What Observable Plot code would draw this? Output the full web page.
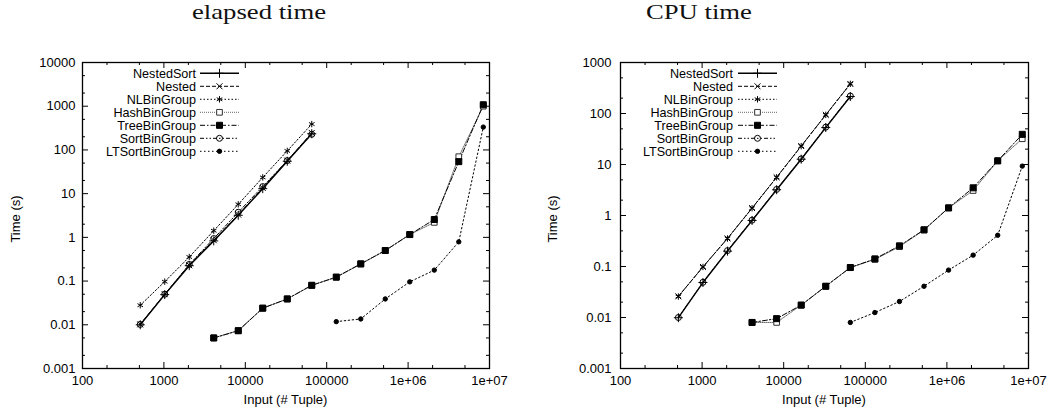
<!DOCTYPE html>
<html><head><meta charset="utf-8">
<script src="https://cdn.jsdelivr.net/npm/d3@7"></script>
<script src="https://cdn.jsdelivr.net/npm/@observablehq/plot@0.6"></script>
<style>
body{margin:0;background:#fff}
#wrap{position:relative;width:1054px;height:414px;overflow:hidden;background:#fff}
#wrap > svg{position:absolute;top:0}
</style></head><body><div id="wrap"></div>
<script>
// ---- data ----
const seriesNames = ["NestedSort","Nested","NLBinGroup","HashBinGroup","TreeBinGroup","SortBinGroup","LTSortBinGroup"];
const titles = ["elapsed time","CPU time"];
const xTicks = [100,1000,10000,100000,1e6,1e7];
const xTickLabels = ["100","1000","10000","100000","1e+06","1e+07"];
const xMinor = [200,500,2000,5000,20000,50000,200000,500000,2e6,5e6];
const yTicksE = [0.001,0.01,0.1,1,10,100,1000,10000];
const yTickLabelsE = ["0.001","0.01","0.1","1","10","100","1000","10000"];
const yMinorE = [0.002,0.005,0.02,0.05,0.2,0.5,2,5,20,50,200,500,2000,5000];
const yTicksC = [0.001,0.01,0.1,1,10,100,1000];
const yTickLabelsC = ["0.001","0.01","0.1","1","10","100","1000"];
const yMinorC = [0.002,0.005,0.02,0.05,0.2,0.5,2,5,20,50,200,500];

const nestX = [512,1024,2048,4096,8192,16384,32768,65536];
const binX = [4096,8192,16384,32768,65536,131072,262144,524288,1048576,2097152,4194304,8388608];
const ltX_E = [131072,262144,524288,1048576,2097152,4194304,8388608];
const ltX_C = [65536,131072,262144,524288,1048576,2097152,4194304,8388608];

// elapsed time (s)
const nestedSortE = [0.01,0.049,0.225,0.83,3.2,13,55,235];
const nestedE     = [0.0102,0.05,0.23,0.86,3.3,13.5,57,245];
const nlBinE      = [0.028,0.097,0.355,1.42,5.7,23.5,95,390];
const hashBinE    = [0.005,0.0074,0.024,0.039,0.08,0.123,0.245,0.5,1.16,2.2,70,1000];
const treeBinE    = [0.005,0.0073,0.024,0.039,0.08,0.123,0.248,0.5,1.16,2.56,54,1080];
const sortBinE    = [0.0102,0.05,0.24,0.94,3.75,14.5,57,228];
const ltSortE     = [0.0118,0.0136,0.039,0.096,0.178,0.79,333];

// CPU time (s)
const nestedSortC = [0.0099,0.0485,0.2,0.8,3.2,12.7,53,215];
const nestedC     = [0.026,0.098,0.355,1.4,5.6,23,94,380];
const nlBinC      = [0.0258,0.098,0.354,1.39,5.6,22.9,94,382];
const hashBinC    = [0.008,0.008,0.0175,0.041,0.0955,0.138,0.245,0.52,1.41,3.09,11.8,32];
const treeBinC    = [0.008,0.0095,0.0175,0.041,0.0955,0.141,0.254,0.524,1.41,3.49,11.8,39];
const sortBinC    = [0.01,0.049,0.205,0.81,3.25,12.9,54,220];
const ltSortC     = [0.008,0.0125,0.0206,0.041,0.085,0.167,0.41,9.3];

// ---- styles ----
const styles = {
  NestedSort:     {dash: null, sw: 1.4, stroke: "#000", symbol: "plus", r: 3, fill: "none"},
  Nested:         {dash: "4,2", sw: 1, stroke: "#000", symbol: "times", r: 2.8, fill: "none"},
  NLBinGroup:     {dash: "1.5,2", sw: 1, stroke: "#000", symbol: "asterisk", r: 3, fill: "none"},
  HashBinGroup:   {dash: "1,1", sw: 0.9, stroke: "#555", symbol: "square", r: 3.2, fill: "#fff"},
  TreeBinGroup:   {dash: "5,2,1.5,2", sw: 1, stroke: "#000", symbol: "square", r: 3.4, fill: "#000"},
  SortBinGroup:   {dash: "4,2,1.5,2,1.5,2", sw: 1, stroke: "#000", symbol: "circle", r: 3, fill: "none"},
  LTSortBinGroup: {dash: "1.5,2.5", sw: 1, stroke: "#000", symbol: "circle", r: 2.2, fill: "#000"}
};

const W = 527, H = 414, MT = 62, MB = 46;
const FONT = "'Liberation Sans', Arial, Helvetica, sans-serif";

function rows(xs, ys) { return xs.map((x, i) => ({x, y: ys[i]})); }

function panel({yDomain, yTicks, yTickLabels, yMinor, data, ml, mr, ypad}) {
  const iw = W - ml - mr, ih = H - MT - MB;
  const maj = 6, mn = 3;
  const marks = [];
  marks.push(
    Plot.tickX(xTicks, {x: d => d, insetTop: ih - maj, stroke: "#000"}),
    Plot.tickX(xTicks, {x: d => d, insetBottom: ih - maj, stroke: "#000"}),
    Plot.tickX(xMinor, {x: d => d, insetTop: ih - mn, stroke: "#000"}),
    Plot.tickX(xMinor, {x: d => d, insetBottom: ih - mn, stroke: "#000"}),
    Plot.tickY(yTicks, {y: d => d, insetRight: iw - maj, stroke: "#000"}),
    Plot.tickY(yTicks, {y: d => d, insetLeft: iw - maj, stroke: "#000"}),
    Plot.tickY(yMinor, {y: d => d, insetRight: iw - mn, stroke: "#000"}),
    Plot.tickY(yMinor, {y: d => d, insetLeft: iw - mn, stroke: "#000"})
  );
  for (const name of seriesNames) {
    const s = styles[name], d = data[name];
    marks.push(Plot.line(d, {x: "x", y: "y", stroke: s.stroke, strokeWidth: s.sw, strokeDasharray: s.dash || undefined}));
  }
  for (const name of seriesNames) {
    const s = styles[name], d = data[name];
    marks.push(Plot.dot(d, {x: "x", y: "y", symbol: s.symbol, r: s.r, stroke: name === "HashBinGroup" ? "#333" : "#000", fill: s.fill, strokeWidth: 1}));
  }
  marks.push(
    Plot.frame({stroke: "#000", strokeWidth: 1.3}),
    Plot.axisX({ticks: xTicks, tickFormat: d => xTickLabels[xTicks.indexOf(d)], tickSize: 0, tickPadding: 7, label: null, fill: "#000", fontSize: 13}),
    Plot.axisY({ticks: yTicks, tickFormat: d => yTickLabels[yTicks.indexOf(d)], tickSize: 0, tickPadding: ypad, label: null, fill: "#000", fontSize: 13})
  );
  return Plot.plot({
    width: W, height: H,
    marginLeft: ml, marginRight: mr, marginTop: MT, marginBottom: MB,
    x: {type: "log", domain: [100, 1e7]},
    y: {type: "log", domain: yDomain},
    style: {fontFamily: FONT, fontSize: "13px", color: "#000", background: "#fff", overflow: "visible"},
    marks
  });
}

const wrap = document.getElementById("wrap");
const left = panel({
  yDomain: [0.001, 10000], yTicks: yTicksE, yTickLabels: yTickLabelsE, yMinor: yMinorE, ml: 82, mr: 38, ypad: 7,
  data: {
    NestedSort: rows(nestX, nestedSortE), Nested: rows(nestX, nestedE), NLBinGroup: rows(nestX, nlBinE),
    HashBinGroup: rows(binX, hashBinE), TreeBinGroup: rows(binX, treeBinE), SortBinGroup: rows(nestX, sortBinE),
    LTSortBinGroup: rows(ltX_E, ltSortE)
  }
});
left.style.left = "0px";
wrap.appendChild(left);
const right = panel({
  yDomain: [0.001, 1000], yTicks: yTicksC, yTickLabels: yTickLabelsC, yMinor: yMinorC, ml: 93, mr: 26, ypad: 9,
  data: {
    NestedSort: rows(nestX, nestedSortC), Nested: rows(nestX, nestedC), NLBinGroup: rows(nestX, nlBinC),
    HashBinGroup: rows(binX, hashBinC), TreeBinGroup: rows(binX, treeBinC), SortBinGroup: rows(nestX, sortBinC),
    LTSortBinGroup: rows(ltX_C, ltSortC)
  }
});
right.style.left = "527px";
wrap.appendChild(right);

// ---- overlay: titles, axis labels, legends ----
const ov = d3.select(wrap).append("svg")
  .attr("width", 1054).attr("height", 414)
  .style("position", "absolute").style("left", "0px").style("top", "0px")
  .style("pointer-events", "none");

const titlePos = [{x: 192, y: 19}, {x: 646, y: 19}];
titles.forEach((t, i) => {
  ov.append("text").text(t)
    .attr("transform", `translate(${titlePos[i].x},${titlePos[i].y}) scale(1.27,1)`)
    .attr("font-family", "'Liberation Serif', 'Times New Roman', serif")
    .attr("font-size", 21).attr("fill", "#111");
});

const lab = ov.append("g").attr("font-family", FONT).attr("font-size", 13).attr("fill", "#000");
[[15, 219], [552, 219]].forEach(([x, y]) => {
  lab.append("text").text("Time (s)").attr("text-anchor", "middle")
    .attr("transform", `translate(${x},${y}) rotate(-90)`).attr("dy", "0.35em");
});
[285.5, 824].forEach(x => {
  lab.append("text").text("Input (# Tuple)").attr("text-anchor", "middle").attr("x", x).attr("y", 404);
});

const symMap = {plus: d3.symbolPlus, times: d3.symbolTimes, asterisk: d3.symbolAsterisk, square: d3.symbolSquare, circle: d3.symbolCircle};
function legend(textRight, lineX0, lineX1) {
  const g = ov.append("g").attr("font-family", FONT).attr("font-size", 12.6);
  seriesNames.forEach((name, i) => {
    const s = styles[name];
    const y = 73.3 + i * 13;
    g.append("text").text(name).attr("x", textRight).attr("y", y).attr("dy", "0.35em")
      .attr("text-anchor", "end").attr("fill", "#000");
    g.append("line").attr("x1", lineX0).attr("x2", lineX1).attr("y1", y).attr("y2", y)
      .attr("stroke", s.stroke).attr("stroke-width", s.sw).attr("stroke-dasharray", s.dash);
    g.append("path").attr("d", d3.symbol(symMap[s.symbol], Math.PI * s.r * s.r)())
      .attr("transform", `translate(${(lineX0 + lineX1) / 2},${y})`)
      .attr("fill", s.fill).attr("stroke", name === "HashBinGroup" ? "#333" : "#000").attr("stroke-width", 1);
  });
}
legend(196, 200, 239);
legend(733, 738, 777);
</script></body></html>
